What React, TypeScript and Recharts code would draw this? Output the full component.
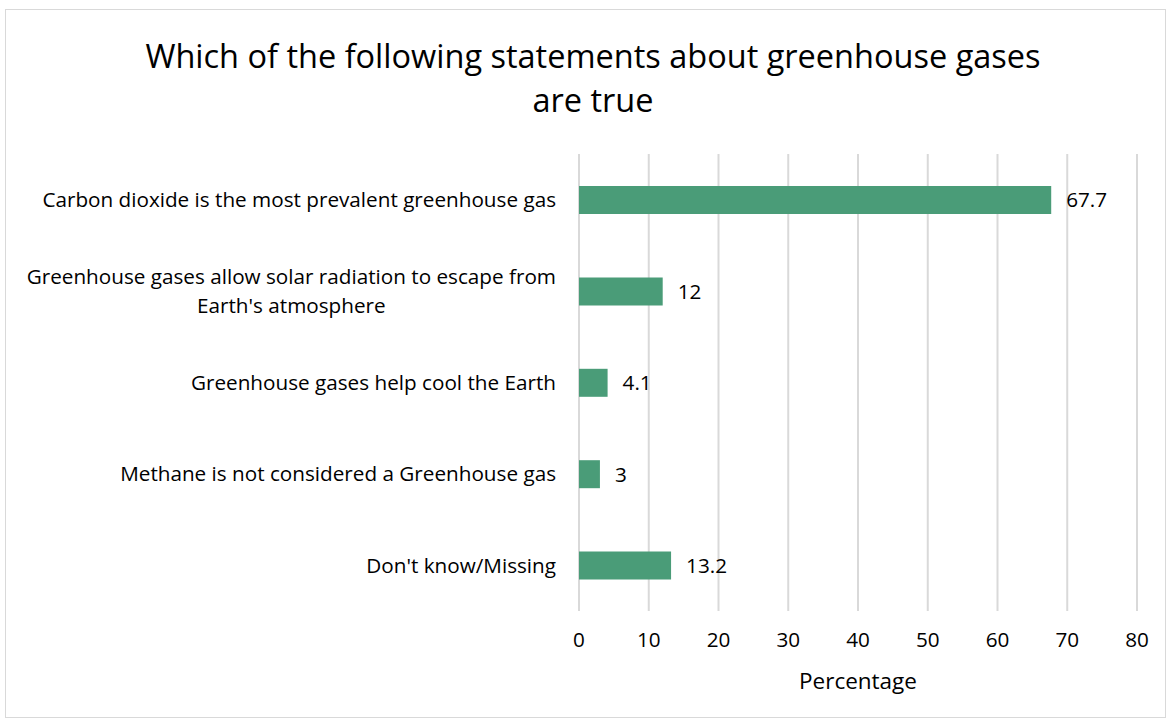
import React from "react";
import { BarChart, Bar, XAxis, YAxis, CartesianGrid, LabelList } from "recharts";

// survey answers, top to bottom
const statements = [
  "Carbon dioxide is the most prevalent greenhouse gas",
  "Greenhouse gases allow solar radiation to escape from\nEarth's atmosphere",
  "Greenhouse gases help cool the Earth",
  "Methane is not considered a Greenhouse gas",
  "Don't know/Missing",
];
const percentages = [67.7, 12, 4.1, 3, 13.2];
const percentTicks = [0, 10, 20, 30, 40, 50, 60, 70, 80];

const titleLines = ["Which of the following statements about greenhouse gases", "are true"];

const rows = statements.map((name, i) => ({ name, value: percentages[i] }));

const FONT = "'Open Sans', sans-serif";
const LABEL_SIZE = 20.7;

let measureCtx: CanvasRenderingContext2D | null = null;
const textWidth = (s: string) => {
  if (!measureCtx) measureCtx = document.createElement("canvas").getContext("2d");
  if (!measureCtx) return s.length * LABEL_SIZE * 0.5;
  measureCtx.font = `${LABEL_SIZE}px 'Open Sans'`;
  return measureCtx.measureText(s).width;
};

// wrapped labels are centred on each other, the block is right aligned
const StatementTick = (props: any) => {
  const { x, y, payload } = props;
  const lines = String(payload.value).split("\n");
  const block = Math.max(...lines.map(textWidth));
  const right = x - 15;
  const cx = right - block / 2;
  const lh = 29;
  const y0 = y - ((lines.length - 1) * lh) / 2;
  return (
    <text x={cx} y={y0} textAnchor="middle" fontSize={LABEL_SIZE} fontFamily={FONT} fill="#000">
      {lines.map((l, i) => (
        <tspan key={i} x={cx} y={y0 + i * lh} dy="0.35em">
          {l}
        </tspan>
      ))}
    </text>
  );
};

export default function App() {
  return (
    <div style={{ position: "absolute", left: 0, top: 0, width: 1169, height: 721, background: "#fff" }}>
      <div
        style={{
          position: "absolute",
          left: 5,
          top: 9,
          width: 1161,
          height: 709,
          border: "1px solid #d9d9d9",
          boxSizing: "border-box",
        }}
      />
      <div
        style={{
          position: "absolute",
          left: 0,
          top: 34,
          width: 1186,
          textAlign: "center",
          fontFamily: FONT,
          fontSize: 32.5,
          lineHeight: "44px",
          color: "#000",
        }}
      >
        {titleLines.map((t) => (
          <div key={t}>{t}</div>
        ))}
      </div>
      <div style={{ position: "absolute", left: 0, top: 0 }}>
        <BarChart
          width={1169}
          height={721}
          data={rows}
          layout="vertical"
          margin={{ top: 154, right: 32, bottom: 0, left: 0 }}
          barSize={28}
        >
          <CartesianGrid horizontal={false} stroke="#d9d9d9" strokeWidth={2} />
          <XAxis
            type="number"
            domain={[0, 80]}
            ticks={percentTicks}
            interval={0}
            axisLine={false}
            tickLine={false}
            height={110}
            tickMargin={15}
            tick={{ fill: "#000", fontSize: LABEL_SIZE, fontFamily: FONT }}
            label={{
              value: "Percentage",
              position: "insideBottom",
              offset: 32,
              fill: "#000",
              fontSize: 22.5,
              fontFamily: FONT,
            }}
          />
          <YAxis
            type="category"
            dataKey="name"
            width={579}
            axisLine={false}
            tickLine={false}
            interval={0}
            tick={<StatementTick />}
          />
          <Bar dataKey="value" fill="#4a9c78" isAnimationActive={false}>
            <LabelList
              dataKey="value"
              position="right"
              offset={15}
              fill="#000"
              fontSize={LABEL_SIZE}
              fontFamily={FONT}
            />
          </Bar>
        </BarChart>
      </div>
    </div>
  );
}
